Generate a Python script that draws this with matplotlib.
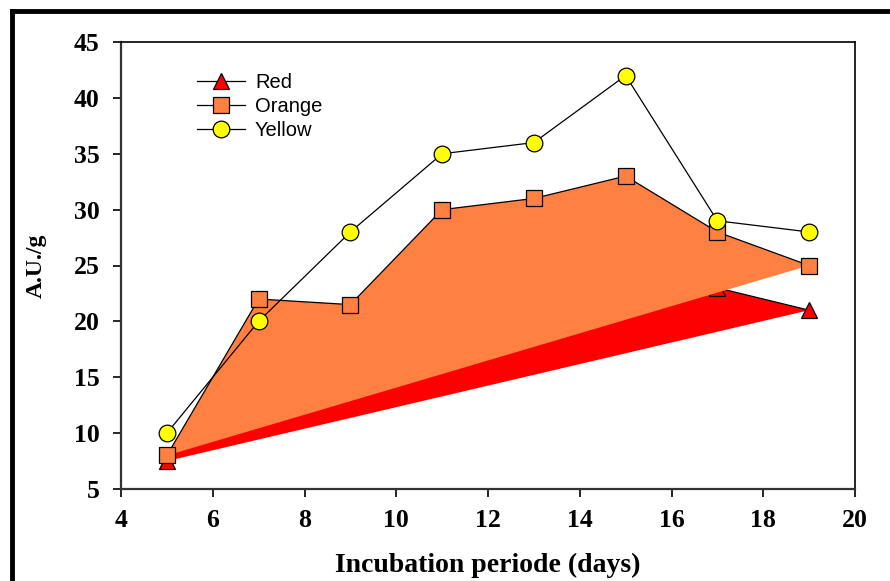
import matplotlib.pyplot as plt
from matplotlib.lines import Line2D

# Data
days = [5, 7, 9, 11, 13, 15, 17, 19]
red = [7.5, 18, 19, 26, 27, 29, 23, 21]
orange = [8, 22, 21.5, 30, 31, 33, 28, 25]
yellow = [10, 20, 28, 35, 36, 42, 29, 28]

x_ticks = [4, 6, 8, 10, 12, 14, 16, 18, 20]
y_ticks = [5, 10, 15, 20, 25, 30, 35, 40, 45]

fig = plt.figure(figsize=(8.9, 5.81), dpi=100)
ax = fig.add_axes([121 / 890, 1 - 489 / 581, 734 / 890, 447 / 581])

# red series: filled polygon, line, markers
ax.fill(days, red, color='#FF0000', lw=0, zorder=1)
ax.plot(days, red, color='black', lw=0.9, marker='^', ms=12,
        mfc='#FF0000', mec='black', mew=0.9, label='Red', zorder=2)

# orange series drawn over red
ax.fill(days, orange, color='#FF8040', lw=0, zorder=3)
ax.plot(days, orange, color='black', lw=0.9, marker='s', ms=11,
        mfc='#FF8040', mec='black', mew=0.9, label='Orange', zorder=4)

# yellow series: line only
ax.plot(days, yellow, color='black', lw=0.9, marker='o', ms=12,
        mfc='#FFFF00', mec='black', mew=0.9, label='Yellow', zorder=5)

ax.set_xlim(4, 20)
ax.set_ylim(5, 45)
ax.set_xticks(x_ticks)
ax.set_yticks(y_ticks)

tick_font = dict(family='Liberation Serif', weight='bold', size=18.5)
ax.set_xticklabels([str(t) for t in x_ticks], fontdict=tick_font)
ax.set_yticklabels([str(t) for t in y_ticks], fontdict=tick_font)
ax.tick_params(direction='out', length=5.5, width=1.2, top=False, right=False)
ax.tick_params(axis='y', pad=10)
ax.tick_params(axis='x', pad=9)

for side in ['left', 'bottom']:
    ax.spines[side].set_linewidth(1.6)
    ax.spines[side].set_color('#333333')
for side in ['top', 'right']:
    ax.spines[side].set_linewidth(1.2)

ax.set_xlabel('Incubation periode (days)', family='Liberation Serif',
              weight='bold', size=20, labelpad=15)
ax.set_ylabel('A.U./g', family='Liberation Serif', weight='bold', size=17,
              labelpad=19)

leg = ax.legend(loc='upper left', bbox_to_anchor=(0.103, 0.93), frameon=False,
                prop={'family': 'Liberation Sans', 'size': 14.5},
                handlelength=2.4, handletextpad=0.5, labelspacing=0.25,
                borderpad=0, borderaxespad=0)

# thick outer frame (top and left edges visible)
fig.add_artist(Line2D([12 / 890, 12 / 890], [0, 1 - 11 / 581], color='black', lw=3.5))
fig.add_artist(Line2D([12 / 890, 1], [1 - 11 / 581, 1 - 11 / 581], color='black', lw=3.5))

fig.savefig('out.png', dpi=100)
